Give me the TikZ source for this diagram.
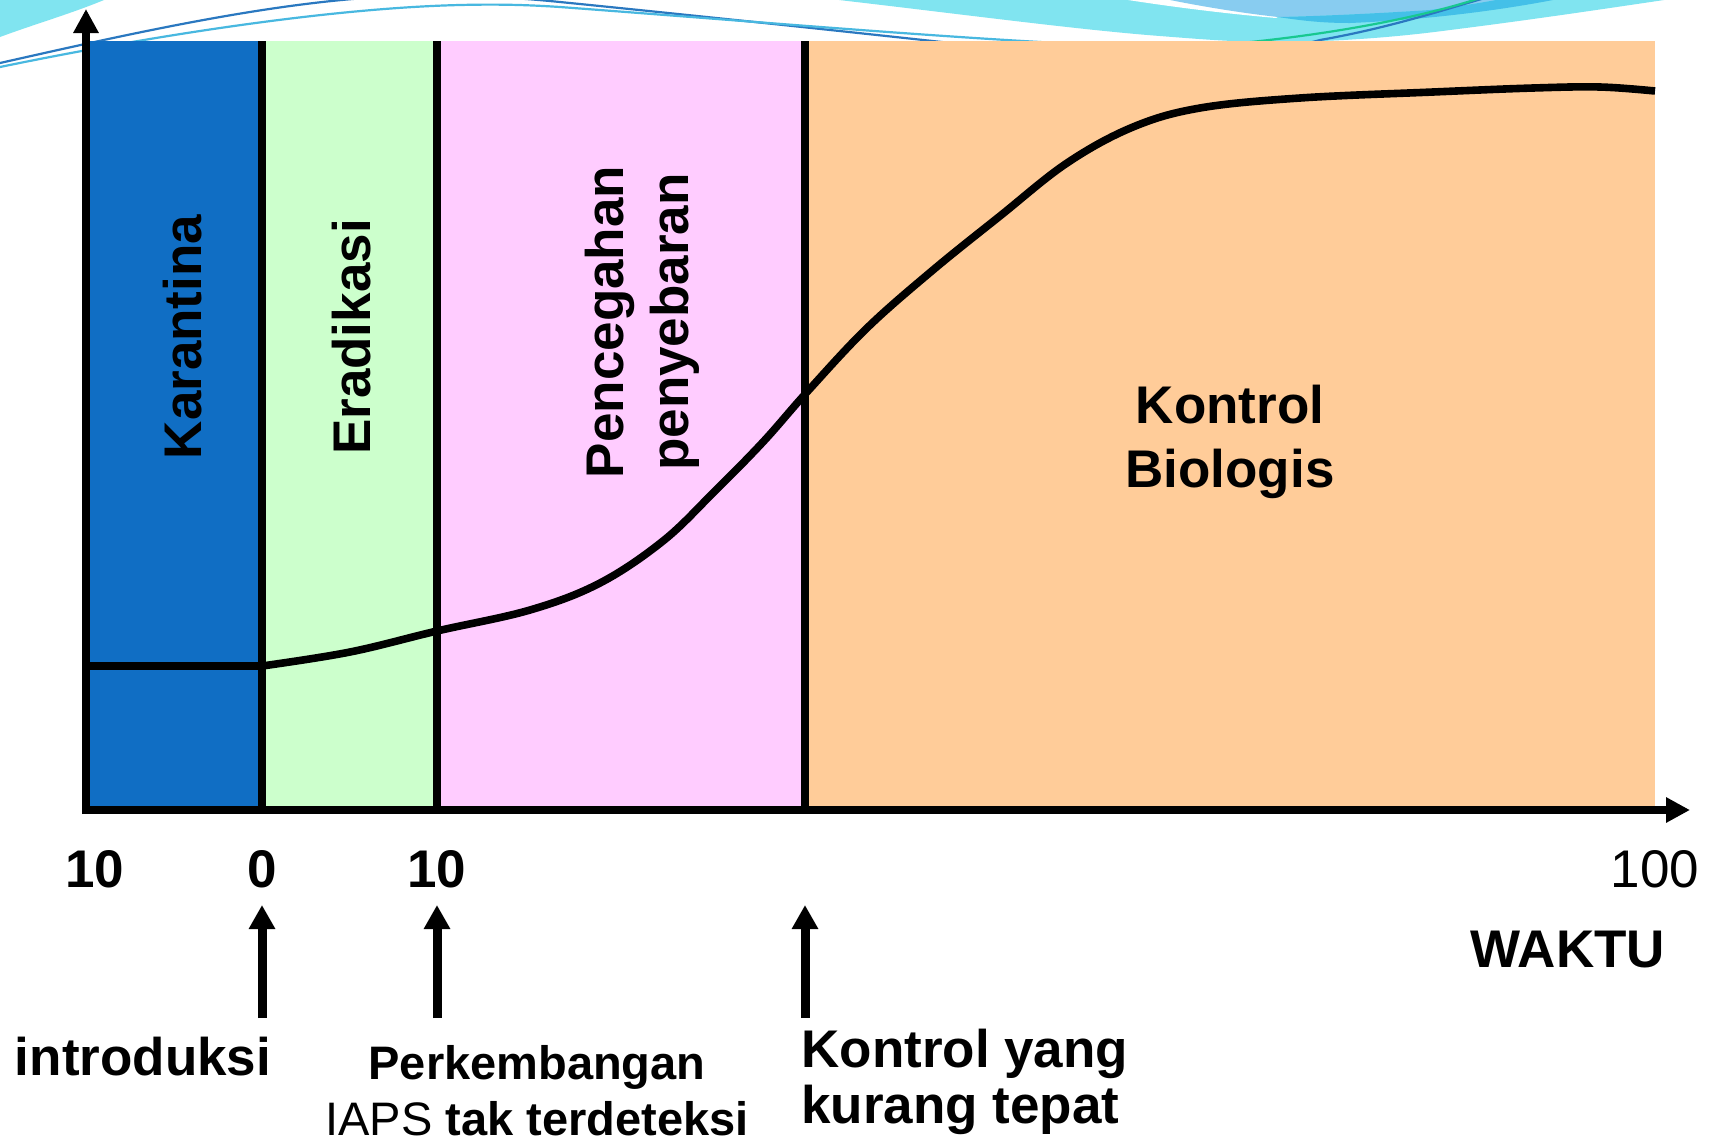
\documentclass[tikz,border=0pt]{standalone}
\usepackage{fontspec}
\setmainfont{Liberation Sans}
\usetikzlibrary{arrows.meta}
\definecolor{cBlue}{HTML}{106EC4}
\definecolor{cGreen}{HTML}{CCFFCC}
\definecolor{cPink}{HTML}{FFCCFF}
\definecolor{cOrange}{HTML}{FFCC99}
\definecolor{cCyan}{HTML}{80E4F0}
\definecolor{cBlob}{HTML}{88CCF0}
\definecolor{cBlobD}{HTML}{44C0E8}
\definecolor{cLineA}{HTML}{2A78C0}
\definecolor{cLineB}{HTML}{48B8E0}
\definecolor{cLineG}{HTML}{18C890}
\begin{document}
\begin{tikzpicture}[x=0.5pt,y=-0.5pt,
  lbl/.style={font=\fontsize{26.5pt}{31pt}\selectfont\bfseries, inner sep=0pt},
  lblr/.style={font=\fontsize{26.5pt}{31pt}\selectfont, inner sep=0pt},
  lbls/.style={font=\fontsize{23.5pt}{28pt}\selectfont\bfseries, inner sep=0pt},
  divider/.style={line width=4pt},
  axisline/.style={line width=4pt, -{Triangle[length=12pt,width=12pt]}},
  pointer/.style={line width=4.5pt, -{Triangle[length=12pt,width=12.5pt]}},
  curveline/.style={line width=3.8pt, line join=round},
  deco/.style={line width=1.1pt}]
\useasboundingbox (0,0) rectangle (1713,1142);
\fill[white] (0,0) rectangle (1713,1142);

% ---- decorative waves (behind the chart) ----
\fill[cCyan] (0,0) -- (104,0) .. controls (70,14) and (35,24) .. (0,37) -- cycle;
\fill[cCyan] (839,0) .. controls (960,14) and (1080,30) .. (1160,36)
  .. controls (1210,40) and (1240,42) .. (1270,42)
  .. controls (1330,42) and (1390,38) .. (1450,30)
  .. controls (1530,20) and (1610,8) .. (1664,0) -- cycle;
\fill[white] (1128,0) .. controls (1180,8) and (1230,14) .. (1276,18)
  -- (1282,14) .. controls (1240,8) and (1200,4) .. (1175,0) -- cycle;
\fill[cBlob] (1170,0) .. controls (1210,8) and (1250,14) .. (1278,17)
  .. controls (1330,16) and (1400,12) .. (1430,10)
  .. controls (1460,6) and (1480,3) .. (1496,0) -- cycle;
\fill[cBlobD] (1278,17) .. controls (1310,22) and (1330,23) .. (1350,23)
  .. controls (1420,20) and (1490,12) .. (1553,0) -- (1496,0)
  .. controls (1480,3) and (1460,6) .. (1430,10)
  .. controls (1400,12) and (1330,16) .. (1278,17) -- cycle;
\draw[deco, cLineA] (0,63) .. controls (120,36) and (260,4) .. (380,-3)
  .. controls (470,-6) and (520,-2) .. (560,2)
  .. controls (700,16) and (850,32) .. (960,44)
  .. controls (1100,60) and (1250,60) .. (1320,40)
  .. controls (1400,26) and (1460,4) .. (1500,-6);
\draw[deco, cLineB] (0,67) .. controls (150,36) and (330,8) .. (460,5)
  .. controls (500,4) and (530,5) .. (560,7)
  .. controls (760,22) and (900,34) .. (1040,42);
\draw[deco, cLineG] (1040,42) .. controls (1120,48) and (1200,48) .. (1260,41)
  .. controls (1360,30) and (1440,12) .. (1486,-4);

% ---- coloured phases ----
\fill[cBlue] (86,41) rectangle (262,810);
\fill[cGreen] (262,41) rectangle (437,810);
\fill[cPink] (437,41) rectangle (805,810);
\fill[cOrange] (805,41) rectangle (1655,810);

% ---- growth curve ----
\draw[curveline] (86,666) -- (262,666);
\draw[curveline] plot[smooth, tension=0.6] coordinates {(262,666) (350,652) (437,631) (530,610) (600,583) (663,541) (713,493) (763,442) (807,392) (867,328) (933,270) (1000,216) (1067,163) (1133,127) (1200,108) (1300,98) (1433,92) (1533,88) (1600,87) (1655,91)};

% ---- dividers ----
\coordinate (d1t) at (262,41); \coordinate (d1b) at (262,810);
\coordinate (d2t) at (437,41); \coordinate (d2b) at (437,810);
\coordinate (d3t) at (805,41); \coordinate (d3b) at (805,810);
\draw[divider] (d1t) -- (d1b);
\draw[divider] (d2t) -- (d2b);
\draw[divider] (d3t) -- (d3b);

% ---- axes ----
\coordinate (origin) at (86,810);
\coordinate (ytip) at (86,9);
\coordinate (xtip) at (1690,810);
\draw[axisline] (86,814) -- (ytip);
\draw[axisline] (82,810) -- (xtip);

% ---- phase labels ----
\node[lbl, rotate=90, anchor=base] (kar) at (201,337) {Karantina};
\node[lbl, rotate=90, anchor=base] (era) at (370,337) {Eradikasi};
\node[lbl, rotate=90, anchor=base] (pen1) at (623,322) {Pencegahan};
\node[lbl, rotate=90, anchor=base] (pen2) at (688,322) {penyebaran};
\node[lbl, anchor=base] (kb1) at (1230,423) {Kontrol};
\node[lbl, anchor=base] (kb2) at (1230,487) {Biologis};

% ---- tick labels ----
\node[lbl, anchor=base] (tm10) at (95,887) {10};
\node[lbl, anchor=base] (t0) at (262,887) {0};
\node[lbl, anchor=base] (t10) at (437,887) {10};
\node[lblr, anchor=base] (t100) at (1655,887) {100};
\node[lbl, anchor=base] (waktu) at (1568,967) {WAKTU};

% ---- event arrows ----
\coordinate (a1b) at (262,1018); \coordinate (a1t) at (262,905);
\coordinate (a2b) at (437,1018); \coordinate (a2t) at (437,905);
\coordinate (a3b) at (805,1018); \coordinate (a3t) at (805,905);
\draw[pointer] (a1b) -- (a1t);
\draw[pointer] (a2b) -- (a2t);
\draw[pointer] (a3b) -- (a3t);

% ---- event labels ----
\node[lbl, anchor=base] (intro) at (143,1075) {introduksi};
\node[lbls, anchor=base] (perk1) at (537,1079) {Perkembangan};
\node[lbls, anchor=base] (perk2) at (537,1135) {\mdseries IAPS\bfseries{} tak terdeteksi};
\node[lbl, anchor=base west] (kon1) at (801,1067) {Kontrol yang};
\node[lbl, anchor=base west] (kon2) at (801,1123) {kurang tepat};
\end{tikzpicture}
\end{document}
